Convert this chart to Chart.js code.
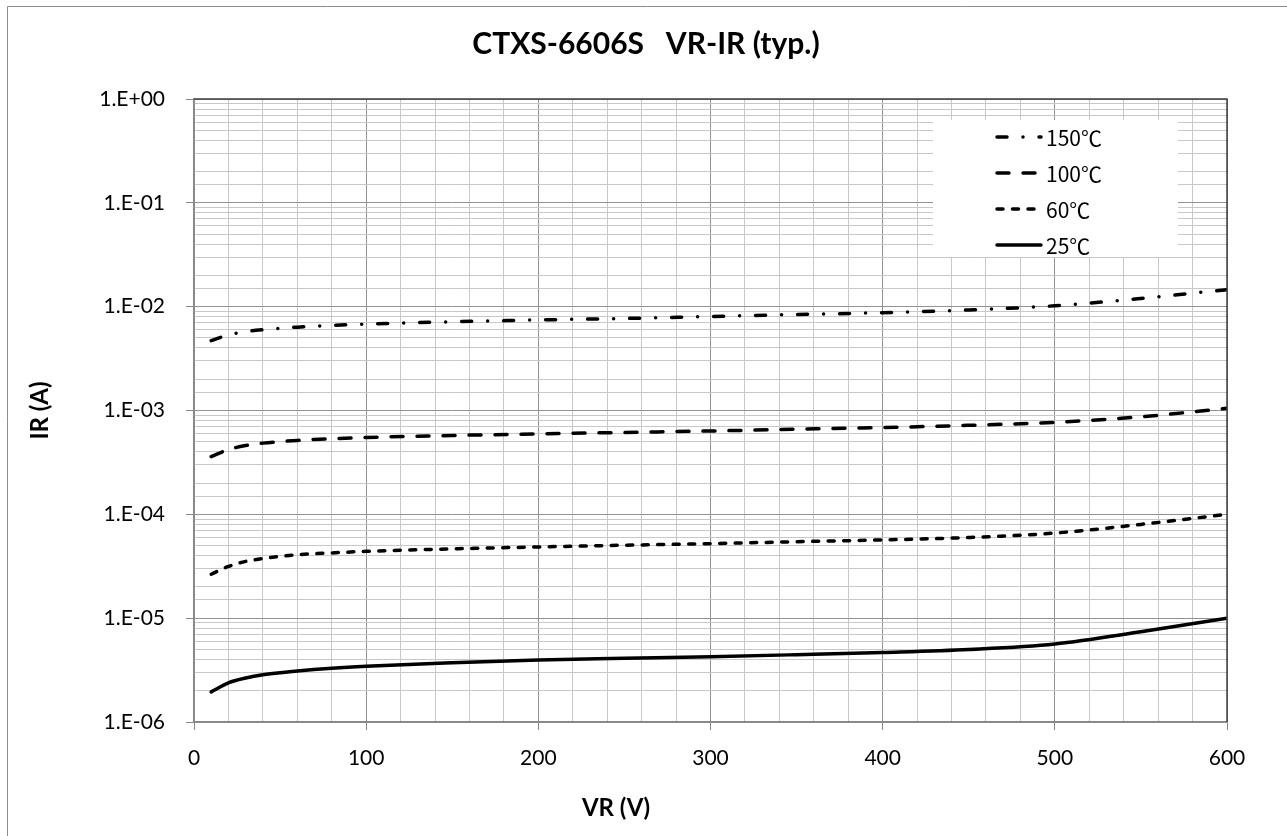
<!DOCTYPE html>
<html>
<head>
<meta charset="utf-8">
<script src="https://cdn.jsdelivr.net/npm/chart.js@4.4.1/dist/chart.umd.min.js"></script>
<style>
  html, body { margin: 0; padding: 0; background: #fff; }
  #wrap { width: 1287px; height: 836px; position: relative; }
</style>
</head>
<body>
<div id="wrap"><canvas id="myChart"></canvas></div>
<script>
// data
const voltages = [10, 20, 30, 40, 60, 80, 100, 150, 200, 250, 300, 350, 400, 450, 500, 550, 600]
const ir150 = [4.7e-3, 5.35e-3, 5.75e-3, 6.0e-3, 6.35e-3, 6.6e-3, 6.8e-3, 7.15e-3, 7.45e-3, 7.7e-3, 8.05e-3, 8.4e-3, 8.75e-3, 9.3e-3, 1.02e-2, 1.2e-2, 1.46e-2]
const ir100 = [3.6e-4, 4.2e-4, 4.6e-4, 4.85e-4, 5.15e-4, 5.35e-4, 5.5e-4, 5.75e-4, 5.95e-4, 6.15e-4, 6.35e-4, 6.6e-4, 6.85e-4, 7.2e-4, 7.7e-4, 8.7e-4, 1.05e-3]
const ir60 = [2.65e-5, 3.15e-5, 3.52e-5, 3.75e-5, 4.08e-5, 4.25e-5, 4.4e-5, 4.65e-5, 4.85e-5, 5.04e-5, 5.22e-5, 5.45e-5, 5.67e-5, 5.98e-5, 6.6e-5, 8.0e-5, 1.0e-4]
const ir25 = [1.95e-6, 2.38e-6, 2.65e-6, 2.85e-6, 3.1e-6, 3.3e-6, 3.45e-6, 3.72e-6, 3.95e-6, 4.1e-6, 4.25e-6, 4.45e-6, 4.68e-6, 5.0e-6, 5.65e-6, 7.4e-6, 1.0e-5]
const seriesLabels = ['150℃', '100℃', '60℃', '25℃']

// tick labels
const yDecades = [1, 1e-1, 1e-2, 1e-3, 1e-4, 1e-5, 1e-6]
const yTickLabels = ['1.E+00', '1.E-01', '1.E-02', '1.E-03', '1.E-04', '1.E-05', '1.E-06']
const xTickLabels = ['0', '100', '200', '300', '400', '500', '600']

const chartTitle = 'CTXS-6606S   VR-IR (typ.)'
const xTitle = 'VR (V)'
const yTitle = 'IR (A)'

const FONT = "Lato, 'Noto Sans CJK JP', sans-serif"
const LEGEND_FONT = "'Noto Sans CJK JP', Lato, sans-serif"

function decadeIndex(v) {
  return yDecades.findIndex(d => Math.abs(Math.log10(v) - Math.log10(d)) < 1e-6)
}

const toPoints = arr => voltages.map((v, i) => ({ x: v, y: arr[i] }))

// frame, titles and the legend box inside the plot
const framePlugin = {
  id: 'frame',
  beforeDraw(chart) {
    const c = chart.ctx
    c.save()
    c.fillStyle = '#fff'
    c.fillRect(0, 0, chart.width, chart.height)
    c.strokeStyle = '#8c8c8c'
    c.lineWidth = 1
    c.beginPath()
    c.moveTo(7.5, chart.height)
    c.lineTo(7.5, 6.5)
    c.lineTo(chart.width, 6.5)
    c.stroke()
    c.fillStyle = '#000'
    c.textAlign = 'center'
    c.textBaseline = 'middle'
    c.font = 'bold 30px ' + FONT
    c.fillText(chartTitle, 646, 44)
    c.font = 'bold 24px ' + FONT
    c.fillText(xTitle, 616, 808)
    c.restore()
  },
  afterDatasetsDraw(chart) {
    const c = chart.ctx
    const { top, right } = chart.chartArea
    c.save()
    // dark top / right edges of plot area
    c.strokeStyle = '#404040'
    c.lineWidth = 1.5
    c.beginPath()
    c.moveTo(chart.chartArea.left, top)
    c.lineTo(right, top)
    c.lineTo(right, chart.chartArea.bottom)
    c.stroke()

    // legend
    c.fillStyle = '#fff'
    c.fillRect(933, 120, 245, 137)
    const order = [3, 2, 1, 0] // 150, 100, 60, 25
    order.forEach((dsIdx, row) => {
      const ds = chart.data.datasets[dsIdx]
      const y = 137 + row * 36
      c.strokeStyle = ds.borderColor
      c.lineWidth = ds.borderWidth
      c.lineCap = ds.borderCapStyle || 'butt'
      c.setLineDash(ds.borderDash || [])
      c.beginPath()
      c.moveTo(997, y)
      c.lineTo(1041, y)
      c.stroke()
      c.setLineDash([])
      c.fillStyle = '#000'
      c.font = '21px ' + LEGEND_FONT
      c.textAlign = 'left'
      c.textBaseline = 'middle'
      c.fillText(ds.label, 1046, y + 1)
    })
    c.restore()
  }
}

const ctx = document.getElementById('myChart')

new Chart(ctx, {
  type: 'line',
  data: {
    datasets: [
      {
        label: seriesLabels[3],
        data: toPoints(ir25),
        borderColor: '#000',
        borderWidth: 3.5,
        borderCapStyle: 'round',
      },
      {
        label: seriesLabels[2],
        data: toPoints(ir60),
        borderColor: '#000',
        borderWidth: 3.5,
        borderCapStyle: 'round',
        borderDash: [6, 9.5],
      },
      {
        label: seriesLabels[1],
        data: toPoints(ir100),
        borderColor: '#000',
        borderWidth: 3.5,
        borderCapStyle: 'round',
        borderDash: [12, 14],
      },
      {
        label: seriesLabels[0],
        data: toPoints(ir150),
        borderColor: '#000',
        borderWidth: 3.5,
        borderCapStyle: 'round',
        borderDash: [10, 16, 0, 16],
      },
    ]
  },
  options: {
    responsive: true,
    maintainAspectRatio: false,
    animation: false,
    layout: { padding: { top: 99, right: 60, left: 0, bottom: 0 } },
    elements: {
      point: { radius: 0, hoverRadius: 0 },
      line: { cubicInterpolationMode: 'monotone', fill: false },
    },
    plugins: {
      legend: { display: false },
      title: { display: false },
      tooltip: { enabled: false },
    },
    scales: {
      x: {
        type: 'linear',
        min: 0,
        max: 600,
        afterFit: scale => { scale.height = 114 },
        border: { color: '#868686', width: 1.5 },
        grid: {
          color: c => (c.tick && c.tick.value % 100 === 0) ? '#929292' : '#c8c8c8',
          tickColor: c => (c.tick && c.tick.value % 100 === 0) ? '#868686' : 'rgba(0,0,0,0)',
          tickLength: 8,
          lineWidth: 1,
        },
        ticks: {
          stepSize: 20,
          autoSkip: false,
          maxRotation: 0,
          padding: 16,
          color: '#000',
          font: { family: FONT, size: 21 },
          callback: v => v % 100 === 0 ? xTickLabels[v / 100] : '',
        },
      },
      y: {
        type: 'logarithmic',
        min: 1e-6,
        max: 1,
        afterFit: scale => { scale.width = 194 },
        border: { color: '#868686', width: 1.5 },
        grid: {
          color: c => (c.tick && decadeIndex(c.tick.value) >= 0) ? '#929292' : '#c8c8c8',
          tickColor: c => (c.tick && decadeIndex(c.tick.value) >= 0) ? '#868686' : 'rgba(0,0,0,0)',
          tickLength: 8,
          lineWidth: 1,
        },
        ticks: {
          autoSkip: false,
          padding: 21,
          color: '#000',
          font: { family: FONT, size: 21 },
          callback: v => {
            const i = decadeIndex(v)
            return i >= 0 ? yTickLabels[i] : ''
          },
        },
        title: {
          display: true,
          text: yTitle,
          color: '#000',
          font: { family: FONT, size: 24, weight: 'bold' },
          padding: { top: 26, bottom: 0 },
        },
      },
    },
  },
  plugins: [framePlugin],
})
</script>
</body>
</html>
